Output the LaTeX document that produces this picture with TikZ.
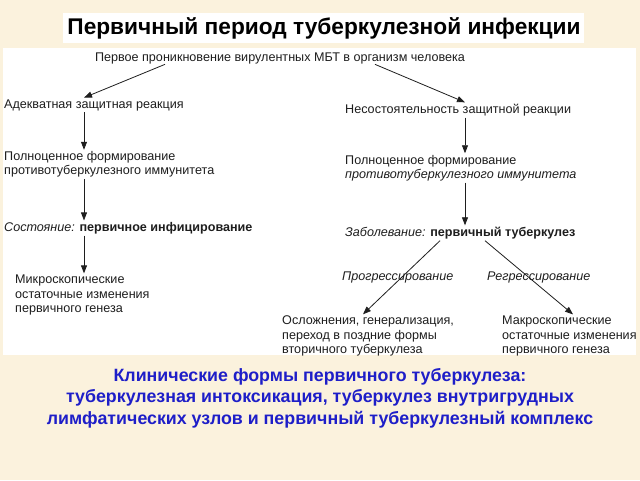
\documentclass[tikz,border=0pt]{standalone}
\usepackage{fontspec}
\setmainfont{Liberation Sans}
\usetikzlibrary{arrows.meta}
\definecolor{bgbeige}{RGB}{251,242,221}
\definecolor{txtblue}{RGB}{30,30,200}
\definecolor{ink}{RGB}{30,30,30}
\tikzset{
  lbl/.style={anchor=west, inner xsep=0pt, inner ysep=1.5pt, align=left, text=ink,
    font=\fontsize{12.6}{14.3}\selectfont},
  arr/.style={draw=ink, line width=0.8pt, -{Triangle[length=8pt,width=6pt]}},
}
\begin{document}
\begin{tikzpicture}[x=1pt,y=-1pt]
\useasboundingbox (0,0) rectangle (640,480);
\fill[bgbeige] (0,0) rectangle (640,480);
\fill[white] (3,48) rectangle (636,355);
\fill[white] (63,13) rectangle (584,43);
\node[font=\fontsize{22.7}{26}\bfseries\selectfont, text=black, inner sep=0pt] (title) at (324,28) {Первичный период туберкулезной инфекции};

\node[lbl, anchor=center, inner ysep=0.5pt] (top) at (280,58) {Первое проникновение вирулентных МБТ в организм человека};
\node[lbl] (adeq) at (4,105) {Адекватная защитная реакция};
\node[lbl] (nes) at (345,110) {Несостоятельность защитной реакции};
\node[lbl] (lform) at (4,164.5) {Полноценное формирование\\противотуберкулезного иммунитета};
\node[lbl] (rform) at (345,168) {Полноценное формирование\\\textit{противотуберкулезного иммунитета}};
\node[lbl] (lstate) at (4,228) {\textit{Состояние:} \textbf{первичное инфицирование}};
\node[lbl] (rdis) at (345,233) {\textit{Заболевание:} \textbf{первичный туберкулез}};
\node[lbl] (lmicro) at (15,295) {Микроскопические\\остаточные изменения\\первичного генеза};
\node[lbl] (prog) at (342,277) {\textit{Прогрессирование}};
\node[lbl] (regr) at (487,277) {\textit{Регрессирование}};
\node[lbl] (compl) at (282,336) {Осложнения, генерализация,\\переход в поздние формы\\вторичного туберкулеза};
\node[lbl] (macro) at (502,336) {Макроскопические\\остаточные изменения\\первичного генеза};

\coordinate (lx) at (84,0);
\coordinate (rx) at (465,0);
\draw[arr] (top.south -| 165,0) -- (adeq.north -| lx);
\draw[arr] (top.south -| 375,0) -- (nes.north -| rx);
\draw[arr] (adeq.south -| lx) -- (lform.north -| lx);
\draw[arr] (lform.south -| lx) -- (lstate.north -| lx);
\draw[arr] (lstate.south -| lx) -- (lmicro.north -| lx);
\draw[arr] (nes.south -| rx) -- (rform.north -| rx);
\draw[arr] (rform.south -| rx) -- (rdis.north -| rx);
\draw[arr] (rdis.south -| 440,0) -- (compl.north -| 363,0);
\draw[arr] (rdis.south -| 485,0) -- (macro.north -| 573,0);

\node[font=\fontsize{17.8}{21.5}\bfseries\selectfont, text=txtblue, align=center, inner sep=0pt] (clin) at (320,398)
  {Клинические формы первичного туберкулеза:\\туберкулезная интоксикация, туберкулез внутригрудных\\лимфатических узлов и первичный туберкулезный комплекс};
\end{tikzpicture}
\end{document}
